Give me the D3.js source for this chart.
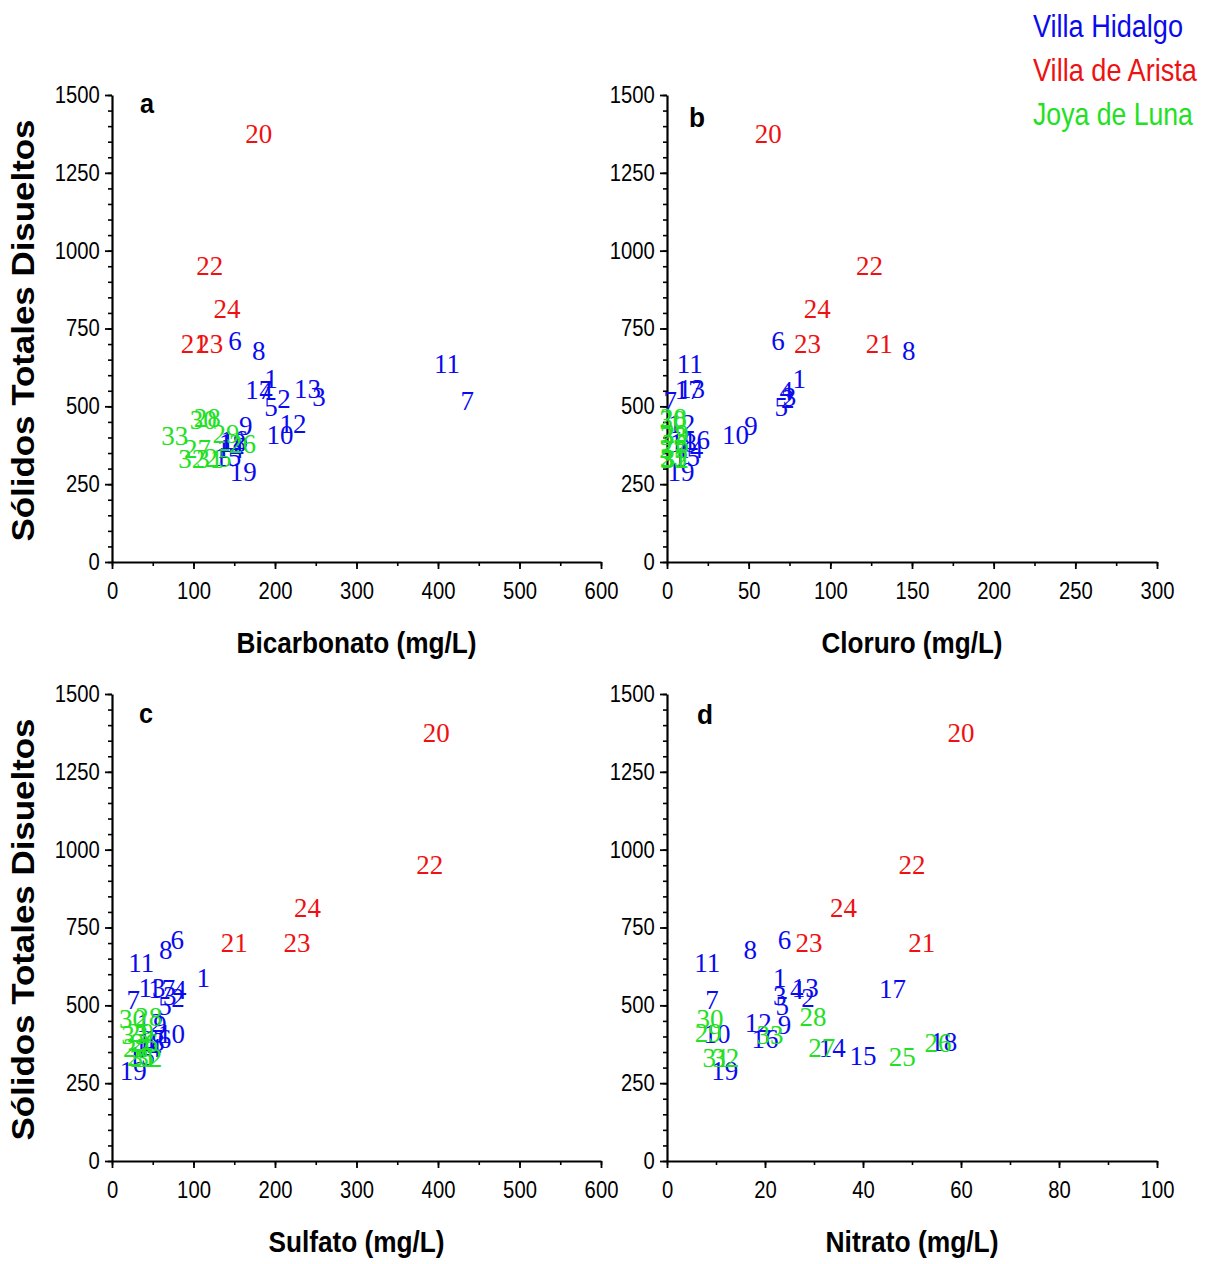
<!DOCTYPE html>
<html>
<head>
<meta charset="utf-8">
<script src="https://cdn.jsdelivr.net/npm/d3@7"></script>
<style>
  body { margin: 0; background: #fff; }
  .tick text { font-family: "Liberation Sans", Arial, sans-serif; }
</style>
</head>
<body>
<div id="chart"></div>
<script>
// Sample numbers and which site each belongs to
const samples = ["1","2","3","4","5","6","7","8","9","10","11","12","13","14","15","16","17","18","19",
                 "20","21","22","23","24",
                 "25","26","27","28","29","30","31","32","33"];
const siteOfSample = [0,0,0,0,0,0,0,0,0,0,0,0,0,0,0,0,0,0,0,
                      1,1,1,1,1,
                      2,2,2,2,2,2,2,2,2];
const siteNames = ["Villa Hidalgo", "Villa de Arista", "Joya de Luna"];

// Sólidos totales disueltos (mg/L)
const tds = [588,525,530,550,498,712,520,680,438,408,638,445,556,363,340,392,553,385,290,
             1375,702,952,702,815,
             334,382,363,463,411,459,331,331,405];
// Bicarbonato (mg/L)
const bicarbonato = [195,211,254,189,195,151,436,180,164,206,411,222,240,145,142,150,180,148,161,
                     180,101,120,120,141,
                     130,160,105,117,140,112,120,98,77];
// Cloruro (mg/L)
const cloruro = [81,74,75,73,70,68,2,148,51.5,42,14,9,15,14,12,18,13,10,8.5,
                 62,130,124,86,92,
                 4,5,3.5,4,5,3.5,4,5,4];
// Sulfato (mg/L)
const sulfato = [112,81,71,83,65,80,26,66,59,73,36,47,49,44,36,56,61,48,26,
                 398,150,390,227,240,
                 35,40,30,45,35,25,38,45,28];
// Nitrato (mg/L)
const nitrato = [23,28.8,23,26.5,23.5,24,9.2,17,24,10.2,8.2,18.6,28.2,33.7,40,20,46,56.5,11.8,
                 60,52,50,29,36,
                 48,55.3,31.6,29.8,8.4,8.8,10,12,21];

const yTicks = [0, 250, 500, 750, 1000, 1250, 1500];

const color = d3.scaleOrdinal()
  .domain([0, 1, 2])
  .range(["#0a0aee", "#ee1111", "#22e022"]);

const svg = d3.select("#chart")
  .append("svg")
    .attr("width", 1207)
    .attr("height", 1264);

const sans = "'Liberation Sans', Arial, sans-serif";
const serif = "'Liberation Serif', 'Times New Roman', serif";

const panels = [
  { letter: "a", values: bicarbonato, title: "Bicarbonato (mg/L)", xMax: 600, major: 100, minor: 50,
    left: 112, top: 95, w: 489, titleLen: 240, lx: 140, ly: 113, yTitle: true },
  { letter: "b", values: cloruro, title: "Cloruro (mg/L)", xMax: 300, major: 50, minor: 25,
    left: 667, top: 95, w: 490, titleLen: 181, lx: 689, ly: 127, yTitle: false },
  { letter: "c", values: sulfato, title: "Sulfato (mg/L)", xMax: 600, major: 100, minor: 50,
    left: 112, top: 694, w: 489, titleLen: 176, lx: 139, ly: 723, yTitle: true },
  { letter: "d", values: nitrato, title: "Nitrato (mg/L)", xMax: 100, major: 20, minor: 10,
    left: 667, top: 694, w: 490, titleLen: 173, lx: 697, ly: 724, yTitle: false }
];

const plotH = 467;

const drawPanel = (p) => {
  const g = svg.append("g").attr("transform", `translate(${p.left},${p.top})`);

  const x = d3.scaleLinear().domain([0, p.xMax]).range([0, p.w]);
  const y = d3.scaleLinear().domain([0, 1500]).range([plotH, 0]);

  // minor ticks
  g.append("g")
    .attr("transform", `translate(0,${plotH})`)
    .call(d3.axisBottom(x).tickValues(d3.range(0, p.xMax + 0.01, p.minor)).tickSize(4).tickFormat(""))
    .call(s => s.select(".domain").remove())
    .selectAll("line").attr("stroke-width", 1.6);
  g.append("g")
    .call(d3.axisLeft(y).tickValues(d3.range(0, 1501, 50)).tickSize(4).tickFormat(""))
    .call(s => s.select(".domain").remove())
    .selectAll("line").attr("stroke-width", 1.6);

  // major ticks and labels
  const xAxis = g.append("g")
    .attr("transform", `translate(0,${plotH})`)
    .call(d3.axisBottom(x).tickValues(d3.range(0, p.xMax + 0.01, p.major))
      .tickFormat(d3.format("d"))
      .tickSize(7).tickSizeOuter(0).tickPadding(14));
  const yAxis = g.append("g")
    .call(d3.axisLeft(y).tickValues(yTicks).tickFormat(d3.format("d"))
      .tickSize(7).tickSizeOuter(0).tickPadding(7));

  [xAxis, yAxis].forEach(ax => {
    ax.select(".domain").attr("stroke-width", 2.2);
    ax.selectAll(".tick line").attr("stroke-width", 1.8);
    ax.selectAll(".tick text")
      .attr("font-size", 23)
      .attr("fill", "#000")
      .attr("transform", "scale(0.88,1)");
  });

  // sample labels
  g.selectAll("text.sample")
    .data(samples)
    .join("text")
      .attr("class", "sample")
      .attr("transform", (d, i) => `translate(${x(p.values[i])},${y(tds[i])})`)
      .attr("text-anchor", "middle")
      .attr("dy", "0.35em")
      .attr("font-family", serif)
      .attr("font-size", 27)
      .attr("fill", (d, i) => color(siteOfSample[i]))
      .text(d => d);

  // panel letter
  svg.append("text")
    .attr("x", p.lx).attr("y", p.ly)
    .attr("font-family", sans).attr("font-weight", "bold")
    .attr("font-size", 28)
    .attr("textLength", p.letter === "a" || p.letter === "c" ? 14 : 16)
    .attr("lengthAdjust", "spacingAndGlyphs")
    .text(p.letter);

  // x title
  svg.append("text")
    .attr("x", p.left + p.w / 2 - p.titleLen / 2).attr("y", p.top + plotH + 91)
    .attr("font-family", sans).attr("font-weight", "bold")
    .attr("font-size", 30)
    .attr("textLength", p.titleLen)
    .attr("lengthAdjust", "spacingAndGlyphs")
    .text(p.title);

  if (p.yTitle) {
    svg.append("text")
      .attr("transform", `translate(34,${p.top + plotH / 2 + 2}) rotate(-90)`)
      .attr("x", -211)
      .attr("font-family", sans).attr("font-weight", "bold")
      .attr("font-size", 31)
      .attr("textLength", 422)
      .attr("lengthAdjust", "spacingAndGlyphs")
      .text("Sólidos Totales Disueltos");
  }
};

panels.forEach(drawPanel);

// legend: condensed with a transform so the box stays inside the page
const legendY = [37, 81, 125];
const legendLen = [150, 164, 160];
svg.selectAll("text.legend")
  .data(siteNames)
  .join("text")
    .attr("class", "legend")
    .attr("font-family", sans)
    .attr("font-size", 31)
    .attr("fill", (d, i) => color(i))
    .text(d => d)
    .attr("transform", function (d, i) {
      const sx = legendLen[i] / this.getComputedTextLength();
      return `translate(1033,${legendY[i]}) scale(${sx},1)`;
    });
</script>
</body>
</html>
